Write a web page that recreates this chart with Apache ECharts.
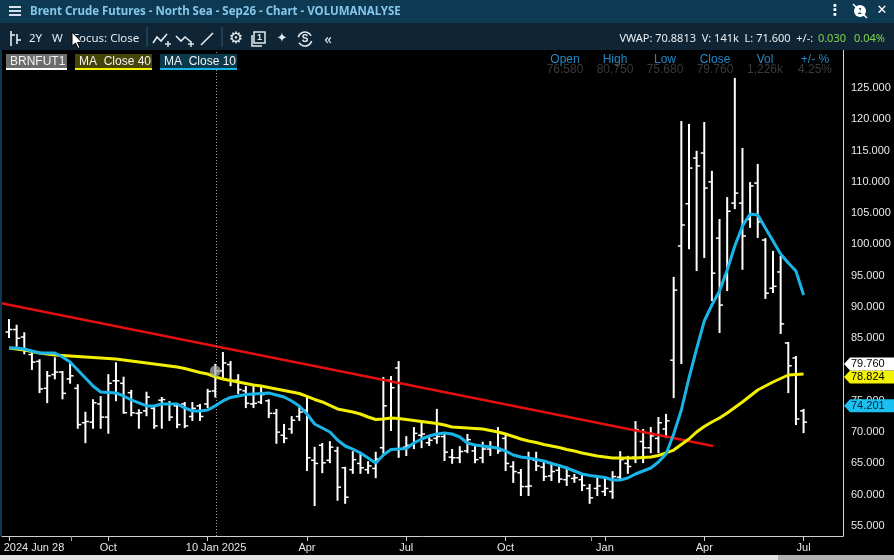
<!DOCTYPE html>
<html><head><meta charset="utf-8">
<script src="https://cdn.jsdelivr.net/npm/echarts@6/dist/echarts.min.js"></script>
<style>html,body{margin:0;padding:0;background:#000;overflow:hidden}#c{width:894px;height:560px}</style>
</head><body><div id="c"></div>
<script>
// ---- data (weekly bars, index 0 = 2024 Jun 28) ----
const open = [86.0,86.4,85.2,82.4,81.3,77.0,79.2,79.6,78.5,77.0, 71.5,71.6,74.5,72.4,78.2,77.8,76.3,73.0,73.4,73.8, 75.1,74.5,74.2,74.5,72.5,74.2,74.5,76.58,79.8,80.8, 78.3,76.6,74.5,74.8,75.0,73.0,69.5,70.5,72.5,73.5, 65.5,67.9,65.5,67.0,64.3,64.0,65.0,64.0,64.2,67.5, 78.3,80.25,67.6,68.0,69.5,68.3,69.0,69.3,66.0,65.9, 67.0,67.0,65.9,67.3,67.4,69.0,64.5,63.5,61.3,65.5, 64.4,63.0,63.9,62.4,62.6,62.4,61.0,61.0,60.5,60.5, 62.8,65.0,66.0,68.5,67.5,69.0,70.5,81.5,99.75,106.5, 113.8,114.6,110.0,101.0,95.0,106.6,106.6,104.0,109.8,100.7, 93.0,95.6,84.25,81.85,73.4];
const high = [87.9,87.0,85.8,82.6,81.5,79.6,81.8,79.6,81.0,77.5, 73.1,75.1,75.6,79.1,81.0,78.7,76.6,73.5,76.3,73.85, 75.45,74.8,74.35,74.65,74.65,74.35,76.75,80.75,82.65,81.2, 79.1,77.2,77.2,77.2,75.1,73.55,71.15,72.4,73.85,75.45, 67.5,68.1,68.4,67.5,64.3,66.8,66.7,65.2,66.7,78.65, 78.8,81.2,69.2,70.65,71.45,69.05,73.55,69.55,67.15,67.6, 69.55,67.95,68.3,68.4,70.65,69.55,65.2,63.95,66.7,66.7, 65.1,65.1,64.3,64.3,63.15,63.15,61.55,62.8,62.65,63.6, 66.8,66.05,71.6,70.35,70.65,72.25,72.75,94.65,119.55,119.1, 114.8,119.4,111.6,103.9,107.4,126.45,115.25,109.8,112.7,100.85, 98.8,98.0,84.25,82.0,73.55];
const low = [85.2,83.8,82.6,80.1,76.4,74.8,78.6,75.4,77.9,70.7, 68.4,70.7,70.7,69.9,75.1,73.1,72.7,70.7,72.7,70.7, 70.7,71.95,70.8,70.8,71.95,71.95,74.0,75.68,78.65,77.5, 76.25,74.0,74.0,74.65,72.4,68.3,68.4,69.9,71.95,63.95, 58.35,63.6,65.2,59.2,58.7,63.5,63.5,63.5,62.8,66.7, 70.35,66.05,66.35,67.45,67.6,67.95,68.3,65.55,65.1,65.2, 66.8,65.2,65.2,66.35,66.7,63.95,62.05,59.95,59.95,63.95, 62.35,62.35,62.05,61.55,62.05,60.75,58.7,59.95,59.95,59.5, 62.35,63.5,65.2,65.2,66.8,66.8,69.2,75.6,81.05,99.4, 95.9,98.0,91.1,86.0,92.7,105.8,96.1,102.8,101.2,91.45, 92.4,85.85,76.4,71.3,70.0];
const close = [86.4,85.0,83.0,81.2,76.9,79.0,79.6,76.2,79.0,71.2, 71.7,74.7,72.4,77.8,78.2,73.1,73.1,73.1,75.6,71.0, 75.2,72.4,71.2,71.0,73.8,72.5,76.51,79.76,81.05,78.2, 76.8,74.6,74.6,76.0,73.0,70.0,69.0,71.9,73.2,65.9, 65.0,65.1,67.6,61.2,59.6,65.6,64.3,64.6,65.7,74.2, 77.1,67.3,67.9,69.8,69.7,68.7,69.3,66.8,65.9,66.9, 68.8,65.6,67.3,67.6,67.0,65.0,63.7,61.3,61.4,64.6, 62.9,63.7,62.5,63.0,62.7,61.5,59.5,61.4,61.0,62.9, 65.6,64.5,70.4,67.5,69.4,71.5,71.8,92.7,103.1,112.2, 112.55,109.0,95.4,90.3,105.3,108.2,101.35,109.35,103.6,92.2, 93.3,87.3,80.6,72.1,71.6];
const ma40 = [83.45,83.29,83.13,82.89,82.65,82.49,82.33,82.25,82.17,82.09, 82.01,81.93,81.85,81.77,81.69,81.53,81.37,81.21,81.05,80.89, 80.73,80.57,80.41,80.17,79.85,79.53,79.29,78.824,78.49,78.25, 78.01,77.77,77.53,77.37,77.13,76.89,76.65,76.41,76.17,75.70, 75.22,74.82,74.26,73.70,73.46,73.22,72.90,72.42,72.02,72.10, 72.26,72.18,72.02,71.86,71.70,71.54,71.38,71.14,70.82,70.74, 70.66,70.58,70.50,70.26,70.02,69.70,69.30,68.90,68.58,68.34, 68.02,67.78,67.54,67.22,66.98,66.67,66.43,66.19,66.03,65.87, 65.87,65.87,65.87,65.95,66.03,66.27,66.67,67.14,68.02,68.90, 70.02,70.90,71.62,72.26,73.06,73.94,74.82,75.78,76.73,77.37, 78.01,78.57,79.13,79.21,79.29];
const ma10 = [83.45,83.45,83.29,82.97,82.65,82.65,82.65,82.01,81.21,79.93, 78.65,77.37,76.41,76.33,76.25,75.78,75.14,74.66,74.18,74.18, 74.50,74.50,74.50,73.86,73.38,73.38,73.54,74.201,74.98,75.54, 75.78,76.01,76.09,76.17,76.25,75.94,75.62,74.98,74.18,72.90, 71.30,70.66,70.02,68.74,67.78,67.30,66.67,65.87,65.07,66.35, 67.22,67.30,67.38,68.26,68.90,69.38,69.70,69.86,69.70,69.22, 68.26,67.94,67.78,67.62,67.46,66.98,66.35,66.03,65.87,65.63, 65.39,64.99,64.67,64.27,63.79,63.31,63.07,62.91,62.75,62.35, 62.35,62.67,63.31,63.79,64.27,65.23,66.51,69.70,73.54,78.65, 83.29,87.76,90.32,92.56,95.91,99.75,102.94,104.86,104.70,102.62, 100.55,98.47,97.03,95.75,91.92];
const trendIdx = [-1.18, 92.15];
const trendVal = [90.64, 67.78];
const xTickIdx = [0,13,26,39,52,65,78,91,104];
const xLabelIdx = [0,13,27.1,39,52,65,78,91,104];
const xLabels = ['2024 Jun 28','Oct','10 Jan 2025','Apr','Jul','Oct','Jan','Apr','Jul'];
const rollIdx = [8.1, 76.2];
const yTicks = [55,60,65,70,75,80,85,90,95,100,105,110,115,120,125];
const crossIdx = 27;
const volText = '1,226k', chgText = '4.25%';

const ohlc = open.map((o,i)=>[i,o,high[i],low[i],close[i]]);
const FONT = '"Liberation Sans", Arial, sans-serif';

const chart = echarts.init(document.getElementById('c'));
function renderBar(params, api){
  const i=api.value(0);
  const ph=api.coord([i,api.value(2)]), pl=api.coord([i,api.value(3)]);
  const po=api.coord([i,api.value(1)]), pc=api.coord([i,api.value(4)]);
  const st={stroke:'#ffffff',lineWidth:2};
  return {type:'group',children:[
    {type:'line',shape:{x1:ph[0],y1:ph[1]-1,x2:pl[0],y2:pl[1]+1},style:st},
    {type:'line',shape:{x1:po[0]-3.5,y1:po[1],x2:po[0],y2:po[1]},style:{stroke:'#fff',lineWidth:1.5}},
    {type:'line',shape:{x1:pc[0],y1:pc[1],x2:pc[0]+3.5,y2:pc[1]},style:{stroke:'#fff',lineWidth:1.5}}
  ]};
}
const option = {
  backgroundColor:'#000',
  animation:false,
  grid:{left:2,right:51,top:50,bottom:24},
  xAxis:[{
    type:'value',min:-0.916,max:109.16,
    axisLine:{show:true,onZero:false,lineStyle:{color:'#cfcfcf',width:1}},
    axisTick:{show:true,customValues:xTickIdx,length:5,lineStyle:{color:'#cfcfcf'}},
    axisLabel:{show:true,customValues:xLabelIdx,color:'#e6e6e6',fontSize:11,fontFamily:FONT,margin:6,
      formatter:function(v){const k=xLabelIdx.findIndex(x=>Math.abs(x-v)<0.01);if(k<0)return '';return k===0?'{first|'+xLabels[k]+'}':xLabels[k];},
      rich:{first:{padding:[0,0,0,50],fontSize:11,color:'#e6e6e6',fontFamily:FONT}}},
    splitLine:{show:false}
  },{
    type:'value',min:-0.916,max:109.16,position:'bottom',
    axisLine:{show:false},
    axisTick:{show:true,customValues:rollIdx,length:5,lineStyle:{color:'#5fd35f',width:1}},
    axisLabel:{show:false},splitLine:{show:false}
  }],
  yAxis:{
    type:'value',position:'right',min:53.40,max:131.07,
    axisLine:{show:true,onZero:false,lineStyle:{color:'#d8d8d8',width:1}},
    axisTick:{show:false},splitLine:{show:false},
    axisLabel:{customValues:yTicks,formatter:v=>v.toFixed(3),align:'left',margin:8,color:'#e8e8e8',fontSize:11,fontFamily:FONT}
  },
  series:[
    {type:'custom',name:'BRNFUT1',renderItem:renderBar,data:ohlc,encode:{x:0,y:[1,2,3,4]},z:2,
     markLine:{silent:true,symbol:'none',label:{show:false},lineStyle:{type:[1,2],color:'#a0a0a0',width:1},data:[{xAxis:crossIdx+0.1}]}},
    {type:'line',name:'trend',data:trendIdx.map((x,k)=>[x,trendVal[k]]),symbol:'none',lineStyle:{color:'#e41010',width:2.5},z:3,clip:true},
    {type:'line',name:'MA Close 40',data:ma40.map((v,i)=>[i,v]),symbol:'none',lineStyle:{color:'#f2f000',width:3},z:4},
    {type:'line',name:'MA Close 10',data:ma10.map((v,i)=>[i,v]),symbol:'none',lineStyle:{color:'#19b4e8',width:3},z:5},
    {type:'scatter',data:[[crossIdx,close[crossIdx]]],symbolSize:11,itemStyle:{color:'rgba(175,175,175,0.9)'},z:6}
  ]
};
chart.setOption(option);

function T(text,x,y,opt){opt=opt||{};return {type:'text',z:100,style:{text:text,x:x,y:y,fill:opt.fill||'#e6edf2',font:opt.font||('12px '+FONT),textAlign:opt.align||'left',align:opt.align||'left',textVerticalAlign:'middle',verticalAlign:'middle'}};}
function R(x,y,w,h,fill){return {type:'rect',z:99,shape:{x:x,y:y,width:w,height:h},style:{fill:fill}};}
function L(x1,y1,x2,y2,c,w){return {type:'line',z:100,shape:{x1:x1,y1:y1,x2:x2,y2:y2},style:{stroke:c,lineWidth:w||1.5}};}
function P(pts,c,w){return {type:'polyline',z:100,shape:{points:pts},style:{stroke:c,lineWidth:w||1.6,fill:null}};}

const ic='#e3ebf0';
const g = [
  R(0,0,894,23,'#0d3a52'),
  R(0,23,894,27,'#0f2535'),
  R(0,50,2,486,'#0c3a50'),
  R(0,555,894,5,'#e4e4e4'), R(778,555,116,5,'#b2b2b2'),
  // hamburger
  R(9,6,12,2,'#d5e0e8'),R(9,10,12,2,'#d5e0e8'),R(9,14,12,2,'#d5e0e8'),
  T('Brent Crude Futures - North Sea - Sep26 - Chart - VOLUMANALYSE',30,11.5,{fill:'#86c6ea',font:'bold 11.5px "Noto Sans", sans-serif'}),
  T('\u22ee',835,11,{fill:'#fff',font:'bold 15px "DejaVu Sans"',align:'center'}),
  {type:'circle',z:100,shape:{cx:860,cy:11,r:6},style:{fill:'#fff'}},
  T('1',860,11.5,{fill:'#0d3a52',font:'bold 9px '+FONT,align:'center'}),
  L(853,4,867,18,'#fff',1.5),
  T('\u2715',882,11,{fill:'#fff',font:'13px "DejaVu Sans"',align:'center'}),
  // toolbar
  L(11,31,11,46,ic,1.6), L(11,35,15,35,ic,1.6), L(17,34,17,44,ic,1.6), L(17,40,21,40,ic,1.6),
  T('2Y',29,39,{fill:ic,font:'11.5px "Noto Sans", sans-serif'}),
  T('W',52,39,{fill:ic,font:'11.5px "Noto Sans", sans-serif'}),
  T('Focus: Close',73,39,{fill:ic,font:'11.5px "Noto Sans", sans-serif'}),
  {type:'polygon',z:101,shape:{points:[[72,32],[72,46],[75.5,43],[78,48.5],[80,47.5],[77.5,42.5],[82,42.5]]},style:{fill:'#fff',stroke:'#000',lineWidth:1}},
  L(147,27,147,47,'#2f5a72',1), L(222,27,222,47,'#2f5a72',1),
  P([[153,43],[157,37],[161,41],[167,34]],ic), L(165,44,171,44,ic,1.4), L(168,41,168,47,ic,1.4),
  P([[176,36],[181,41],[185,37],[191,42]],ic), L(188,44,194,44,ic,1.4), L(191,41,191,47,ic,1.4),
  L(201,45,213,33,ic,1.6),
  T('\u2699',236,39,{fill:ic,font:'16px "DejaVu Sans"',align:'center'}),
  {type:'rect',z:100,shape:{x:254,y:32,width:11,height:11},style:{stroke:ic,lineWidth:1.5,fill:null}},
  P([[252,35],[252,46],[262,46]],ic,1.5),
  T('1',259.5,37.5,{fill:ic,font:'bold 9px '+FONT,align:'center'}),
  T('\u2726',282,39,{fill:ic,font:'13px "DejaVu Sans"',align:'center'}),
  {type:'arc',z:100,shape:{cx:305,cy:39,r:7,startAngle:0.3,endAngle:2.6},style:{stroke:ic,lineWidth:1.6,fill:null}},
  {type:'arc',z:100,shape:{cx:305,cy:39,r:7,startAngle:3.4,endAngle:5.8},style:{stroke:ic,lineWidth:1.6,fill:null}},
  T('S',305,39.5,{fill:ic,font:'bold 10px '+FONT,align:'center'}),
  T('\u00ab',328,40,{fill:ic,font:'15px "Noto Sans", sans-serif',align:'center'}),
  T('VWAP: 70.8813  V: 141k  L: 71.600  +/-: ',816,39,{fill:'#e8eef2',font:'11px "Noto Sans", sans-serif',align:'right'}),
  T('0.030',846,39,{fill:'#7fd64a',font:'11px "Noto Sans", sans-serif',align:'right'}),
  T('0.04%',885,39,{fill:'#7fd64a',font:'11px "Noto Sans", sans-serif',align:'right'}),
  // legend
  R(6,54,61,14,'#6c6c6c'), R(6,68,61,2,'#ffffff'),
  T('BRNFUT1',10,61.5,{fill:'#f2f2f2',font:'12px '+FONT}),
  R(75,54,77,14,'#45450a'), R(75,68,77,2,'#f2f000'),
  T('MA  Close 40',79,61.5,{fill:'#f2f2f2',font:'12px '+FONT}),
  R(160,54,77,14,'#0b3a4d'), R(160,68,77,2,'#19b4e8'),
  T('MA  Close 10',164,61.5,{fill:'#f2f2f2',font:'12px '+FONT})
];
const hdrX=[565,615,665,715,765,815];
const hdrL=['Open','High','Low','Close','Vol','+/- %'];
const hdrV=[open[crossIdx].toFixed(3),high[crossIdx].toFixed(3),low[crossIdx].toFixed(3),close[crossIdx].toFixed(3),volText,chgText];
hdrX.forEach((x,k)=>{g.push(T(hdrL[k],x,59.5,{fill:'#2389c6',font:'12px '+FONT,align:'center'}));g.push(T(hdrV[k],x,70,{fill:'#3a3a3a',font:'12px '+FONT,align:'center'}));});

// price tags at crosshair values
const tags=[
  {v:ma40[crossIdx],fill:'#f3f300',tc:'#000'},
  {v:close[crossIdx],fill:'#ffffff',tc:'#000'},
  {v:ma10[crossIdx],fill:'#1cc0f0',tc:'#06222e'}
];
tags.forEach(t=>{t.y=chart.convertToPixel({yAxisIndex:0},t.v);});
if(tags[1].y>tags[0].y-13) tags[1].y=tags[0].y-13;
tags.forEach(t=>{
  const y=t.y, x0=844;
  g.push({type:'polygon',z:110,shape:{points:[[x0,y],[x0+6,y-6.5],[894,y-6.5],[894,y+6.5],[x0+6,y+6.5]]},style:{fill:t.fill}});
  const tt=T(t.v.toFixed(3),851,y+0.5,{fill:t.tc,font:'11px '+FONT}); tt.z=111; g.push(tt);
});
chart.setOption({graphic:g});
</script></body></html>
